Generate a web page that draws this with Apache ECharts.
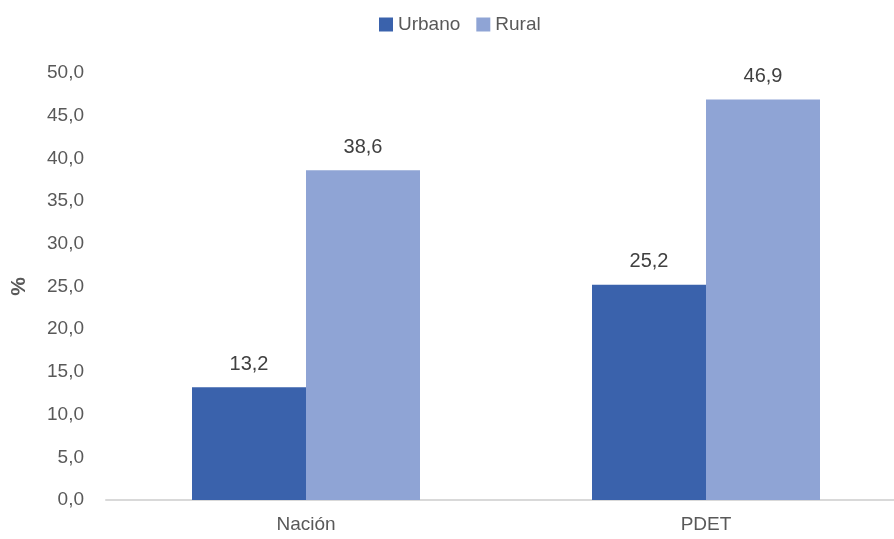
<!DOCTYPE html>
<html>
<head>
<meta charset="utf-8">
<script src="https://cdn.jsdelivr.net/npm/echarts@6/dist/echarts.min.js"></script>
<style>html,body{margin:0;padding:0;background:#fff}#c{width:894px;height:539px}</style>
</head>
<body>
<div id="c"></div>
<script>
var categories = ['Nación', 'PDET'];
var urbano = [13.2, 25.2];
var rural = [38.6, 46.9];
var seriesNames = ['Urbano', 'Rural'];
var yTicks = {min: 0, max: 50, interval: 5};

var fnt = '"Liberation Sans Narrow", "Arial Narrow", "Liberation Sans", sans-serif';
var fmt = function (v) { return Number(v).toFixed(1).replace('.', ','); };
var chart = echarts.init(document.getElementById('c'));
chart.setOption({
  animation: false,
  textStyle: {fontFamily: fnt},
  legend: {
    top: 10, left: 374,
    itemWidth: 14, itemHeight: 14, itemGap: 16,
    icon: 'rect',
    textStyle: {fontFamily: fnt, fontSize: 19, color: '#595959'},
    data: seriesNames
  },
  grid: {left: 106, width: 800, top: 73, bottom: 39, containLabel: false, outerBoundsMode: 'none'},
  xAxis: {
    type: 'category', data: categories,
    axisLine: {lineStyle: {color: '#d9d9d9', width: 2}},
    axisTick: {show: false},
    axisLabel: {fontFamily: fnt, fontSize: 19, color: '#595959', margin: 15}
  },
  yAxis: {
    type: 'value', min: yTicks.min, max: yTicks.max, interval: yTicks.interval,
    name: '%', nameLocation: 'middle', nameGap: 76, nameRotate: 90,
    nameTextStyle: {fontFamily: fnt, fontSize: 21, fontWeight: 'bold', color: '#595959'},
    axisLine: {show: false}, axisTick: {show: false}, splitLine: {show: false},
    axisLabel: {fontFamily: fnt, fontSize: 19, color: '#595959', margin: 22, formatter: fmt}
  },
  series: [
    {name: seriesNames[0], type: 'bar', data: urbano, barGap: '0%', barCategoryGap: '43%',
     itemStyle: {color: '#3A62AC'},
     label: {show: true, position: 'top', distance: 13, fontFamily: fnt, fontSize: 20, color: '#404040', formatter: function (p) { return fmt(p.value); }}},
    {name: seriesNames[1], type: 'bar', data: rural, barGap: '0%', barCategoryGap: '43%',
     itemStyle: {color: '#8FA4D5'},
     label: {show: true, position: 'top', distance: 13, fontFamily: fnt, fontSize: 20, color: '#404040', formatter: function (p) { return fmt(p.value); }}}
  ]
});
</script>
</body>
</html>
